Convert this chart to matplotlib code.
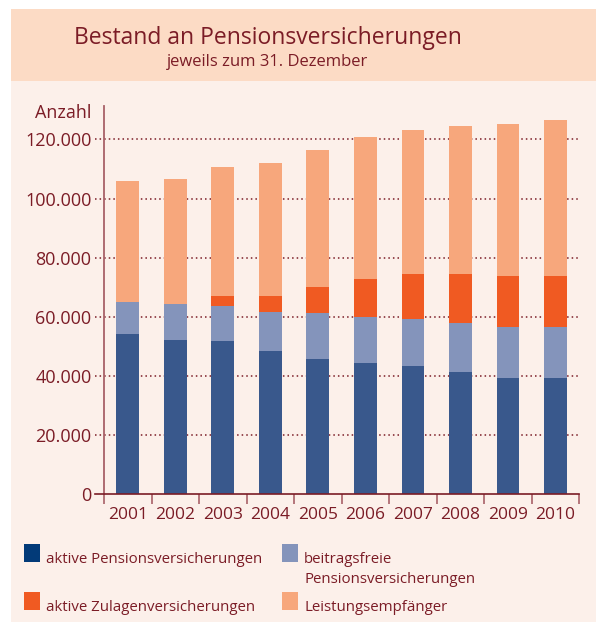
import matplotlib
matplotlib.use("Agg")
import matplotlib.pyplot as plt
from matplotlib.patches import Rectangle

# Daten (in Tausend)
jahre = ["2001", "2002", "2003", "2004", "2005", "2006", "2007", "2008", "2009", "2010"]
aktive = [54.2, 52.2, 51.9, 48.5, 45.7, 44.4, 43.4, 41.4, 39.3, 39.3]
beitragsfrei = [10.8, 12.2, 11.8, 13.2, 15.6, 15.5, 15.9, 16.5, 17.3, 17.3]
zulagen = [0.0, 0.0, 3.4, 5.4, 8.8, 12.9, 15.2, 16.6, 17.2, 17.2]
leistung = [40.9, 42.2, 43.6, 44.9, 46.3, 48.0, 48.7, 50.0, 51.4, 52.7]
y_ticks = [0, 20, 40, 60, 80, 100, 120]
y_labels = ["0", "20.000", "40.000", "60.000", "80.000", "100.000", "120.000"]
legende = ["aktive Pensionsversicherungen", "beitragsfreie\nPensionsversicherungen",
           "aktive Zulagenversicherungen", "Leistungsempfänger"]

rot = "#7b1c26"
c_aktiv = "#39588c"
c_frei = "#8494bb"
c_zul = "#f05a22"
c_leist = "#f7a77c"

plt.rcParams["font.family"] = ["Open Sans", "DejaVu Sans"]

W, H = 596, 626
fig = plt.figure(figsize=(W / 100, H / 100), dpi=100)
fig.patch.set_facecolor("white")

# Hintergrundflächen (Kopf und Körper)
fig.add_artist(Rectangle((11 / W, 1 - 81 / H), 1, 72 / H, transform=fig.transFigure,
                         facecolor="#fcdbc5", edgecolor="none", zorder=0))
fig.add_artist(Rectangle((11 / W, 1 - 622 / H), 1, 541 / H, transform=fig.transFigure,
                         facecolor="#fcf0ea", edgecolor="none", zorder=0))

fig.text(268 / W, 1 - 44 / H, "Bestand an Pensionsversicherungen", ha="center",
         va="baseline", fontsize=16.5, color=rot)
fig.text(268 / W, 1 - 66 / H, "jeweils zum 31. Dezember", ha="center",
         va="baseline", fontsize=12, color=rot)

ax = fig.add_axes([104 / W, 1 - 494.3 / H, 475.3 / W, 388.3 / H])
ax.set_facecolor("none")

x = range(len(jahre))
unten2 = [a + b for a, b in zip(aktive, beitragsfrei)]
unten3 = [a + b for a, b in zip(unten2, zulagen)]
ax.bar(x, aktive, width=0.48, color=c_aktiv, zorder=3)
ax.bar(x, beitragsfrei, width=0.48, bottom=aktive, color=c_frei, zorder=3)
ax.bar(x, zulagen, width=0.48, bottom=unten2, color=c_zul, zorder=3)
ax.bar(x, leistung, width=0.48, bottom=unten3, color=c_leist, zorder=3)

ax.set_xlim(-0.5, len(jahre) - 0.5)
ax.set_ylim(0, 131.3)

for v in y_ticks[1:]:
    ax.axhline(v, xmin=-0.018, xmax=1, color=rot, lw=1.1, ls=(0, (1, 2)),
               clip_on=False, zorder=1)
ax.axhline(0, xmin=-0.018, xmax=1, color=rot, lw=1.2, clip_on=False, zorder=4)

for s in ["top", "right", "bottom"]:
    ax.spines[s].set_visible(False)
ax.spines["left"].set_color("#a86068")
ax.spines["left"].set_linewidth(1.3)

ax.set_yticks(y_ticks)
ax.set_yticklabels(y_labels)
ax.tick_params(axis="y", length=0, pad=9, labelsize=13, labelcolor=rot)
ax.set_xticks(list(x))
ax.set_xticklabels(jahre)
ax.set_xticks([i - 0.5 for i in range(len(jahre) + 1)], minor=True)
ax.tick_params(axis="x", which="major", length=0, pad=9, labelsize=12.5, labelcolor=rot)
ax.tick_params(axis="x", which="minor", length=7, width=1.2, color="#a86068", direction="out")

fig.text(91 / W, 1 - 113 / H, "Anzahl", ha="right", va="center", fontsize=13, color=rot)

# Legende
farben = [c_aktiv, c_frei, c_zul, c_leist]
farben[0] = "#023a78"
pos = [(24, 544), (282, 544), (24, 592), (282, 592)]
for (px, py), f, t in zip(pos, farben, legende):
    fig.add_artist(Rectangle((px / W, 1 - (py + 18) / H), 16 / W, 18 / H,
                             transform=fig.transFigure, facecolor=f, edgecolor="none"))
    fig.text((px + 22) / W, 1 - (py + 19) / H, t.split("\n")[0], ha="left",
             va="baseline", fontsize=10.8, color=rot)
    if "\n" in t:
        fig.text((px + 22) / W, 1 - (py + 39) / H, t.split("\n")[1], ha="left",
                 va="baseline", fontsize=10.8, color=rot)

fig.savefig("out.png", dpi=100, facecolor=fig.get_facecolor())
